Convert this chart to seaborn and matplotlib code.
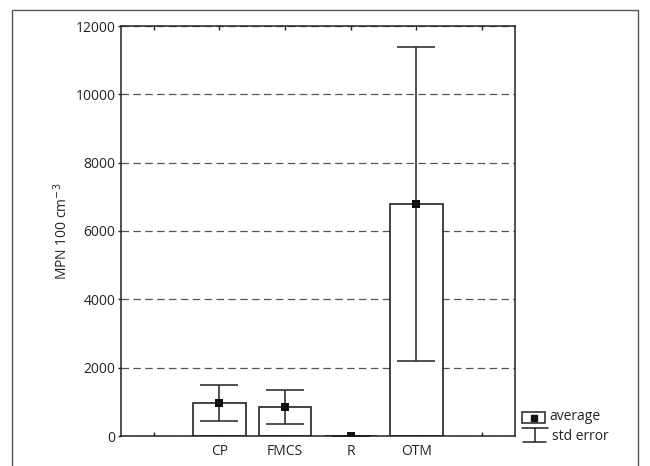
import numpy as np
import pandas as pd
import matplotlib
matplotlib.use("Agg")
import matplotlib.pyplot as plt
from matplotlib.patches import Rectangle
from matplotlib.lines import Line2D
import seaborn as sns

# summary values
categories = ["CP", "FMCS", "R", "OTM"]
means = [970, 850, 8, 6790]
std_err = [525, 500, 6, 4590]
order = ["", "CP", "FMCS", "R", "OTM", " "]
yticks = [0, 2000, 4000, 6000, 8000, 10000, 12000]

sns.set_theme(style="white")
plt.rcParams['font.family'] = ['Open Sans', 'DejaVu Sans']
ink = "#222222"

df = pd.DataFrame({"site": categories, "mpn": means, "se": std_err})

fig = plt.figure(figsize=(6.5, 4.66), dpi=100)
ax = fig.add_axes([121/650, 1-436/466, (515-121)/650, (436-26)/466])

sns.barplot(data=df, x="site", y="mpn", order=order, errorbar=None, width=0.8,
            color="white", edgecolor=ink, linewidth=1.2, saturation=1, ax=ax)

# positions of the real categories in the padded order
xpos = [order.index(c) for c in categories]
ax.errorbar(xpos, df["mpn"], yerr=df["se"], fmt="none", ecolor=ink,
            elinewidth=1.1, capsize=13.5, capthick=1.1, zorder=3)
sns.scatterplot(x=xpos, y=df["mpn"], marker="s", s=30, color="#111111",
                edgecolor="#111111", linewidth=0, zorder=4, ax=ax)

ax.set_xlim(-0.5, len(order) - 0.5)
ax.set_ylim(0, 12000)
ax.set_yticks(yticks)
ax.set_xticks(range(len(order)))
ax.set_xticklabels(order)
ax.set_xlabel("")
ax.set_ylabel("MPN 100 cm$^{-3}$", fontsize=10, labelpad=3, color=ink)

ax.set_axisbelow(True)
ax.yaxis.grid(True, linestyle=(0, (6, 3.5)), color="#555555", linewidth=0.9)
ax.xaxis.grid(False)
for s in ax.spines.values():
    s.set_color(ink)
    s.set_linewidth(1.1)

ax.tick_params(axis="y", direction="out", length=2.5, width=1, pad=1.5,
               labelsize=10, colors=ink, left=True, right=False)
ax.tick_params(axis="x", direction="in", length=3, width=1, pad=6,
               labelsize=10, colors=ink, bottom=True, top=True)

# outer frame
fig.add_artist(Rectangle((12/650, -0.05), (638-12)/650, 1.05 - 10/466,
                         transform=fig.transFigure, fill=False,
                         edgecolor="#555555", linewidth=1.0))

# legend drawn by hand
def px(x, y):
    return x/650, 1 - y/466

x0, y0 = px(522, 423)
fig.add_artist(Rectangle((x0, y0), 23/650, 11/466, transform=fig.transFigure,
                         fill=True, facecolor="white", edgecolor=ink, linewidth=1.1))
fig.add_artist(Line2D([px(533.5, 0)[0]], [px(0, 417.5)[1]], marker="s", markersize=5,
                      color="#111111", transform=fig.transFigure, linestyle="none"))
fig.text(*px(549, 417), "average", fontsize=10, va="center", ha="left", color=ink)
fig.add_artist(Line2D([px(522, 0)[0], px(548, 0)[0]], [px(0, 428)[1]] * 2,
                      color=ink, linewidth=1.1, transform=fig.transFigure))
fig.add_artist(Line2D([px(535, 0)[0]] * 2, [px(0, 428)[1], px(0, 442)[1]],
                      color=ink, linewidth=1.1, transform=fig.transFigure))
fig.add_artist(Line2D([px(523, 0)[0], px(546, 0)[0]], [px(0, 442)[1]] * 2,
                      color=ink, linewidth=1.1, transform=fig.transFigure))
fig.text(*px(552, 436), "std error", fontsize=10, va="center", ha="left", color=ink)

fig.savefig("out.png", dpi=100)
